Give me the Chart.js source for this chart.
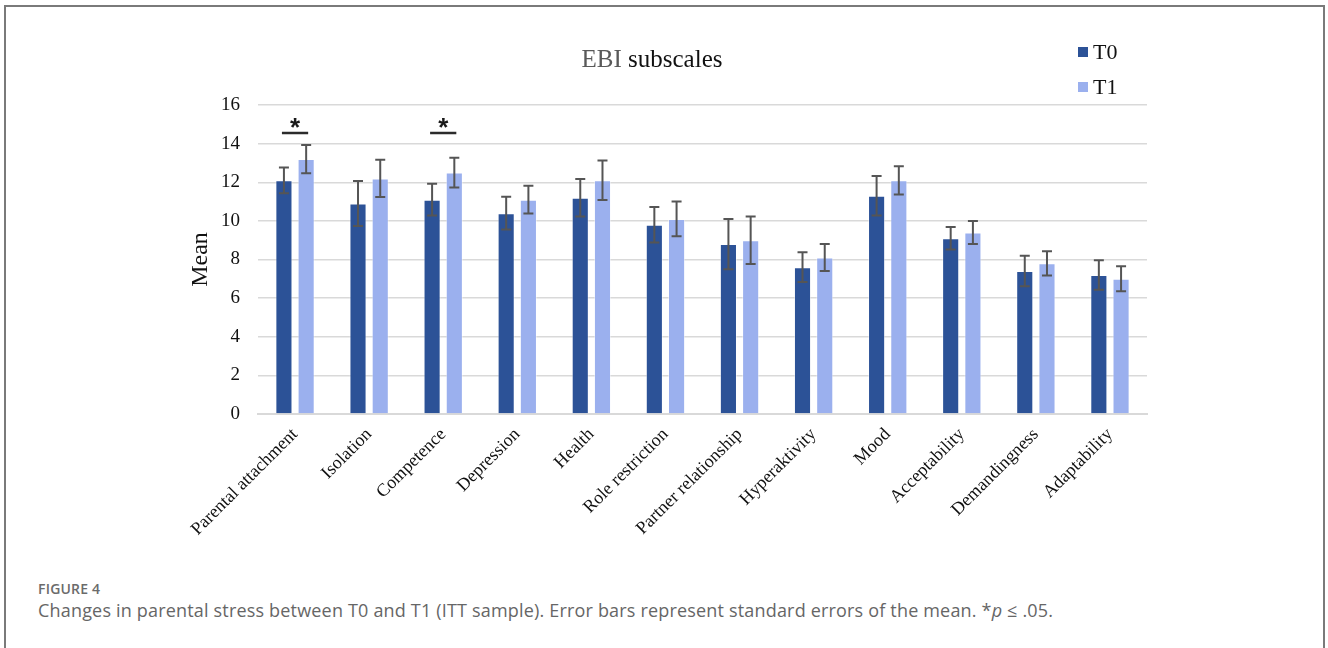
<!DOCTYPE html>
<html>
<head>
<meta charset="utf-8">
<script src="https://cdn.jsdelivr.net/npm/chart.js@4.4.1/dist/chart.umd.min.js"></script>
<style>
  html, body { margin: 0; padding: 0; background: #fff; width: 1328px; height: 648px; overflow: hidden; }
  #frame { position: absolute; left: 4px; top: 5px; width: 1321px; height: 700px; border: 2px solid #7a7a7a; box-sizing: border-box; }
  #wrap { position: absolute; left: 0; top: 0; width: 1328px; height: 560px; }
  #fig { position: absolute; left: 38px; top: 579px; font-family: "Open Sans", sans-serif; font-size: 14px; font-weight: 600; color: #6b6b6b; letter-spacing: 0.2px; }
  #cap { position: absolute; left: 38px; top: 598px; font-family: "Open Sans", sans-serif; font-size: 18px; letter-spacing: 0.18px; color: #666; white-space: nowrap; }
</style>
</head>
<body>
<div id="frame"></div>
<div id="wrap"><canvas id="c" width="1328" height="560"></canvas></div>
<div id="fig">FIGURE 4</div>
<div id="cap">Changes in parental stress between T0 and T1 (ITT sample). Error bars represent standard errors of the mean. *<i>p</i> ≤ .05.</div>
<script>
const categories = ["Parental attachment", "Isolation", "Competence", "Depression", "Health", "Role restriction",
  "Partner relationship", "Hyperaktivity", "Mood", "Acceptability", "Demandingness", "Adaptability"];
const t0Values = [12.1, 10.9, 11.1, 10.4, 11.2, 9.8, 8.8, 7.6, 11.3, 9.1, 7.4, 7.2];
const t1Values = [13.2, 12.2, 12.5, 11.1, 12.1, 10.1, 9.0, 8.1, 12.1, 9.4, 7.8, 7.0];
const t0Errors = [0.67, 1.17, 0.82, 0.85, 0.97, 0.92, 1.3, 0.77, 1.02, 0.58, 0.79, 0.76];
const t1Errors = [0.73, 0.97, 0.77, 0.72, 1.02, 0.9, 1.23, 0.7, 0.73, 0.6, 0.63, 0.65];
const significant = [true, false, true, false, false, false, false, false, false, false, false, false];
const yTicks = [0, 2, 4, 6, 8, 10, 12, 14, 16];

const SERIF = '"Liberation Serif", "Times New Roman", serif';

const errorBarPlugin = {
  id: 'errorBars',
  afterDatasetsDraw(chart) {
    const ctx = chart.ctx;
    const y = chart.scales.y;
    const errs = [t0Errors, t1Errors];
    ctx.save();
    ctx.strokeStyle = '#555';
    ctx.lineWidth = 2;
    chart.data.datasets.forEach((ds, di) => {
      const meta = chart.getDatasetMeta(di);
      meta.data.forEach((bar, i) => {
        const v = ds.data[i], e = errs[di][i];
        const yt = y.getPixelForValue(v + e), yb = y.getPixelForValue(v - e);
        const x = bar.x;
        ctx.beginPath();
        ctx.moveTo(x, yt); ctx.lineTo(x, yb);
        ctx.moveTo(x - 5, yt); ctx.lineTo(x + 5, yt);
        ctx.moveTo(x - 5, yb); ctx.lineTo(x + 5, yb);
        ctx.stroke();
      });
    });
    // significance markers
    const level = chart.options.plugins.errorBars.sigLevel;
    const m0 = chart.getDatasetMeta(0), m1 = chart.getDatasetMeta(1);
    significant.forEach((s, i) => {
      if (!s) return;
      const x0 = m0.data[i].x - 2, x1 = m1.data[i].x + 2;
      const yl = y.getPixelForValue(level);
      ctx.strokeStyle = '#2b2b2b';
      ctx.lineWidth = 2.5;
      ctx.beginPath(); ctx.moveTo(x0, yl); ctx.lineTo(x1, yl); ctx.stroke();
      ctx.fillStyle = '#1a1a1a';
      ctx.font = 'bold 26px "Liberation Sans", Arial, sans-serif';
      ctx.textAlign = 'center';
      ctx.textBaseline = 'alphabetic';
      ctx.fillText('*', (x0 + x1) / 2, yl + 3);
    });
    ctx.restore();
  }
};

const headerPlugin = {
  id: 'header',
  afterDraw(chart) {
    const ctx = chart.ctx;
    ctx.save();
    ctx.font = '25px ' + SERIF;
    ctx.textBaseline = 'alphabetic';
    ctx.textAlign = 'left';
    const a = 'EBI ', b = 'subscales';
    const wa = ctx.measureText(a).width, wb = ctx.measureText(b).width;
    const sx = 652 - (wa + wb) / 2;
    ctx.fillStyle = '#595959'; ctx.fillText(a, sx, 67);
    ctx.fillStyle = '#111'; ctx.fillText(b, sx + wa, 67);
    // legend
    ctx.font = '22px ' + SERIF;
    ctx.textBaseline = 'middle';
    chart.data.datasets.forEach((ds, i) => {
      const cy = 52 + i * 35;
      ctx.fillStyle = ds.backgroundColor;
      ctx.fillRect(1078, cy - 5, 10, 10);
      ctx.fillStyle = '#111';
      ctx.fillText(ds.label, 1093, cy + 1);
    });
    ctx.restore();
  }
};

new Chart(document.getElementById('c'), {
  type: 'bar',
  data: {
    labels: categories,
    datasets: [
      { label: 'T0', data: t0Values, backgroundColor: '#2c5297', borderColor: 'rgba(255,255,255,0.45)', borderWidth: 1 },
      { label: 'T1', data: t1Values, backgroundColor: '#9bb0ee', borderColor: 'rgba(255,255,255,0.45)', borderWidth: 1 }
    ]
  },
  options: {
    responsive: false,
    animation: false,
    layout: { padding: { left: 186, right: 181, top: 105, bottom: 0 } },
    categoryPercentage: 0.6,
    barPercentage: 0.77,
    plugins: {
      legend: { display: false },
      title: { display: false },
      tooltip: { enabled: false },
      errorBars: { sigLevel: 14.55 }
    },
    scales: {
      x: {
        grid: { display: false, drawTicks: false },
        border: { display: true, color: '#d9d9d9', width: 2 },
        ticks: { color: '#111', font: { family: SERIF, size: 18 }, minRotation: 45, maxRotation: 45, padding: 10, autoSkip: false },
        afterFit(s) { s.height = 146; }
      },
      y: {
        min: 0, max: 16,
        afterBuildTicks(s) { s.ticks = yTicks.map(v => ({ value: v })); },
        grid: { color: '#d9d9d9', lineWidth: 1.5, drawTicks: false },
        border: { display: false },
        ticks: { color: '#111', font: { family: SERIF, size: 19 }, padding: 18 },
        title: { display: true, text: 'Mean', color: '#111', font: { family: SERIF, size: 24 }, padding: { top: 0, bottom: 0 } },
        afterFit(s) { s.width = 72; }
      }
    }
  },
  plugins: [errorBarPlugin, headerPlugin]
});
</script>
</body>
</html>
